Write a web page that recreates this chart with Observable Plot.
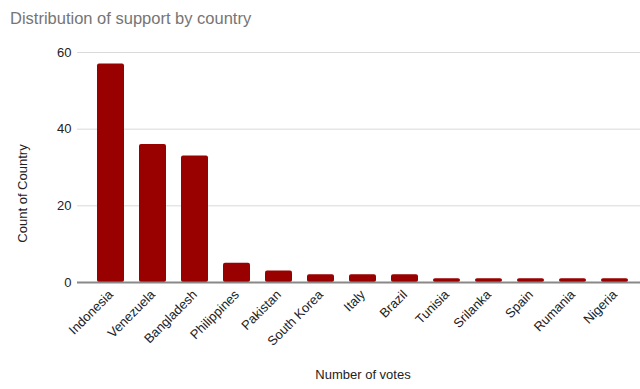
<!DOCTYPE html>
<html>
<head>
<meta charset="utf-8">
<script src="https://cdn.jsdelivr.net/npm/d3@7"></script>
<script src="https://cdn.jsdelivr.net/npm/@observablehq/plot@0.6"></script>
<style>
  html, body { margin: 0; padding: 0; background: #fff; }
  body { width: 640px; height: 389px; overflow: hidden; font-family: Arial, "Liberation Sans", sans-serif; }
  #title { height: 36px; line-height: 36px; padding-left: 10px; font-size: 16.5px; color: #757575; }
  #chart svg { display: block; }
</style>
</head>
<body>
<div id="title">Distribution of support by country</div>
<div id="chart"></div>
<script>
const countries = ["Indonesia", "Venezuela", "Bangladesh", "Philippines", "Pakistan", "South Korea", "Italy", "Brazil", "Tunisia", "Srilanka", "Spain", "Rumania", "Nigeria"];
const counts = [57, 36, 33, 5, 3, 2, 2, 2, 1, 1, 1, 1, 1];
const yTicks = [0, 20, 40, 60];
const xTitle = "Number of votes";
const yTitle = "Count of Country";

const data = countries.map((c, i) => ({country: c, count: counts[i]}));

const plot = Plot.plot({
  width: 640,
  height: 353,
  marginTop: 16,
  marginBottom: 107,
  marginLeft: 77,
  marginRight: 0,
  style: {fontFamily: "Arial, 'Liberation Sans', sans-serif", fontSize: "13px", color: "#222", background: "#fff"},
  x: {domain: countries, range: [86, 640], paddingInner: 0.357, paddingOuter: 0.18, label: null},
  y: {domain: [0, 60], label: null},
  marks: [
    Plot.gridY(yTicks, {stroke: "#d9d9d9", strokeOpacity: 1}),
    Plot.axisY(yTicks, {tickSize: 0, tickPadding: 6, fontSize: 13, label: null}),
    Plot.barY(data, {x: "country", y: "count", fill: "#990000", rx: 2}),
    Plot.ruleY([0], {stroke: "#888", strokeWidth: 2}),
    Plot.axisX({tickSize: 0, tickPadding: 10, tickRotate: -45, fontSize: 13, label: null}),
    Plot.text([xTitle], {frameAnchor: "bottom", dx: 4, dy: 92, fontSize: 13, fill: "#222", lineAnchor: "middle", textAnchor: "middle"}),
    Plot.text([yTitle], {frameAnchor: "left", rotate: -90, dx: -55, dy: 26, fontSize: 13, fill: "#222", lineAnchor: "middle", textAnchor: "middle"})
  ]
});
document.getElementById("chart").appendChild(plot);
</script>
</body>
</html>
